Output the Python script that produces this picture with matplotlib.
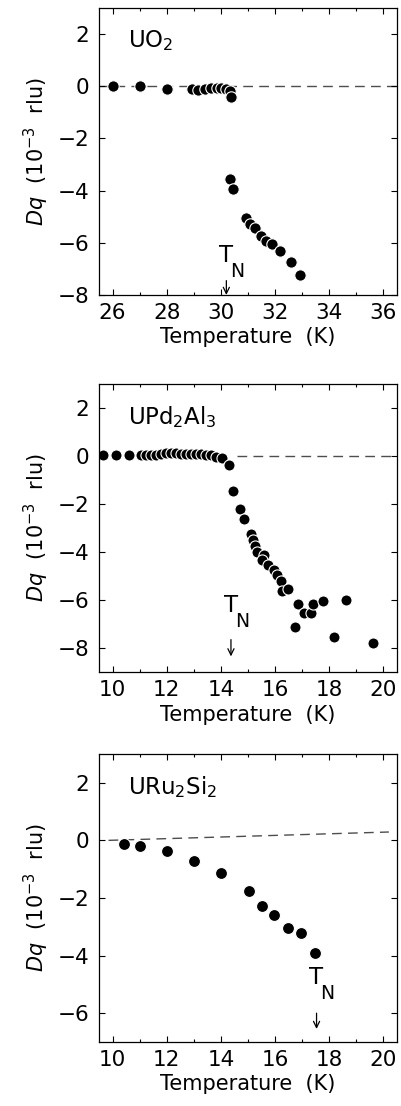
#! /usr/bin/env python3

import matplotlib
matplotlib.use('Agg')
import matplotlib.pyplot as plt
from matplotlib.ticker import MultipleLocator

# Lattice parameter shift vs temperature for three uranium compounds.
# Values.

plt.rcParams['font.family'] = ['DejaVu Sans']
plt.rcParams['mathtext.fontset'] = 'dejavusans'

# UO2
uo2_T = [26.0, 27.0, 28.0, 28.93, 29.17, 29.4, 29.62, 29.87, 30.02, 30.17, 30.32, 30.39,
         30.35, 30.45, 30.94, 31.06, 31.27, 31.49, 31.67, 31.88, 32.18, 32.6, 32.93]
uo2_dq = [0.0, 0.0, -0.09, -0.09, -0.13, -0.1, -0.06, -0.06, -0.06, -0.1, -0.19, -0.41,
          -3.57, -3.92, -5.06, -5.29, -5.45, -5.73, -5.92, -6.03, -6.33, -6.75, -7.24]
uo2_base_T = [25.5, 36.5]
uo2_base = [0.0, 0.0]
uo2_TN = 30.2
uo2_arrow = [-7.45, -8.0]

# UPd2Al3
upd_T = [9.66, 10.12, 10.61, 11.06, 11.25, 11.43, 11.62, 11.8, 11.98, 12.17, 12.35, 12.53,
         12.72, 12.9, 13.08, 13.27, 13.45, 13.64, 13.82, 14.04, 14.31, 14.46, 14.71, 14.86,
         15.1, 15.17, 15.26, 15.32, 15.59, 15.53, 15.72, 15.96, 16.08, 16.2, 16.27, 16.49,
         16.84, 16.72, 17.06, 17.31, 17.41, 17.77, 18.16, 18.62, 19.63]
upd_dq = [0.04, 0.04, 0.04, 0.04, 0.06, 0.06, 0.06, 0.08, 0.11, 0.12, 0.11, 0.1,
          0.08, 0.08, 0.07, 0.07, 0.06, 0.03, -0.03, -0.1, -0.38, -1.47, -2.22, -2.63,
          -3.24, -3.48, -3.73, -3.98, -4.12, -4.32, -4.53, -4.73, -4.96, -5.22, -5.61, -5.56,
          -6.15, -7.11, -6.56, -6.56, -6.15, -6.03, -7.53, -5.99, -7.81]
upd_base_T = [14.6, 20.5]
upd_base = [0.0, 0.0]
upd_TN = 14.37
upd_arrow = [-7.65, -8.35]

# URu2Si2
uru_T = [10.43, 11.0, 12.02, 13.0, 14.0, 15.02, 15.5, 15.96, 16.47, 16.96, 17.49]
uru_dq = [-0.12, -0.2, -0.36, -0.71, -1.13, -1.77, -2.29, -2.58, -3.03, -3.21, -3.92]
uru_base_T = [9.85, 20.2]
uru_base = [0.0, 0.29]
uru_TN = 17.53
uru_arrow = [-6.0, -6.55]

panels = [
    dict(name='UO$_2$', T=uo2_T, dq=uo2_dq, bT=uo2_base_T, b=uo2_base, tn=uo2_TN,
         arrow=uo2_arrow, xlim=(25.5, 36.5), ylim=(-8, 3), tn_y=-6.05, ms=8.2),
    dict(name='UPd$_2$Al$_3$', T=upd_T, dq=upd_dq, bT=upd_base_T, b=upd_base, tn=upd_TN,
         arrow=upd_arrow, xlim=(9.5, 20.5), ylim=(-9, 3), tn_y=-5.75, ms=8.0),
    dict(name='URu$_2$Si$_2$', T=uru_T, dq=uru_dq, bT=uru_base_T, b=uru_base, tn=uru_TN,
         arrow=uru_arrow, xlim=(9.5, 20.5), ylim=(-7, 3), tn_y=-4.35, ms=8.6),
]

fig = plt.figure(figsize=(4.01, 11.06), dpi=100)
# axes boxes: [left, bottom, width, height]
boxes = [[0.247, 0.7333, 0.743, 0.2595],
         [0.247, 0.3924, 0.743, 0.2604],
         [0.247, 0.0579, 0.743, 0.2604]]

for p, box in zip(panels, boxes):
    ax = fig.add_axes(box)
    ax.plot(p['bT'], p['b'], color='0.3', lw=1.0, dashes=(7, 4.5), zorder=1)
    ax.plot(p['T'], p['dq'], 'o', color='black', mec='white', mew=0.8, ms=p['ms'], zorder=2)
    ax.set_xlim(*p['xlim'])
    ax.set_ylim(*p['ylim'])
    ax.xaxis.set_major_locator(MultipleLocator(2))
    ax.xaxis.set_minor_locator(MultipleLocator(1))
    ax.yaxis.set_major_locator(MultipleLocator(2))
    ax.tick_params(which='both', direction='in', top=True, right=True, width=0.8)
    ax.tick_params(which='major', length=4.5, labelsize=15.5, pad=6)
    ax.tick_params(which='minor', length=2.5)
    ax.tick_params(axis='y', pad=7)
    for s in ax.spines.values():
        s.set_linewidth(0.9)
    ax.set_xlabel('Temperature  (K)', fontsize=15, labelpad=3)
    ax.set_ylabel('$\\it{Dq}$  (10$^{-3}$  rlu)', fontsize=15, labelpad=5)
    ax.text(0.097, 0.93, p['name'], transform=ax.transAxes, fontsize=16.5, va='top', ha='left')
    # T with a deep subscript N, as in the original
    ax.text(p['tn'], p['tn_y'], 'T', fontsize=16.5, va='top', ha='center')
    ax.annotate('N', xy=(p['tn'], p['tn_y']), xytext=(8, -13), textcoords='offset points',
                fontsize=13.5, va='top', ha='center')
    ax.annotate('', xy=(p['tn'], p['arrow'][1]), xytext=(p['tn'], p['arrow'][0]),
                arrowprops=dict(arrowstyle='->,head_length=0.45,head_width=0.22',
                                lw=0.9, color='black', shrinkA=0, shrinkB=0))

plt.savefig('out.png', dpi=100)
